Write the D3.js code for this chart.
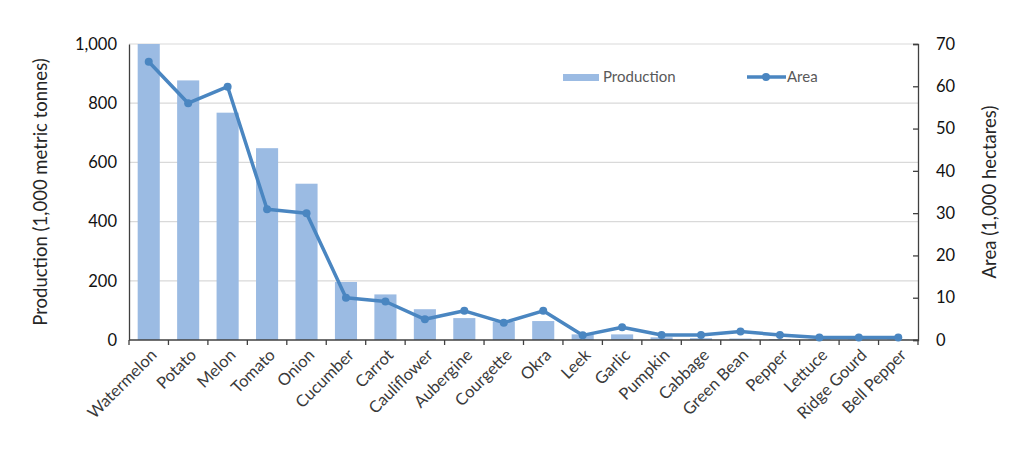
<!DOCTYPE html>
<html>
<head>
<meta charset="utf-8">
<script src="https://cdn.jsdelivr.net/npm/d3@7"></script>
<style>
  body { margin: 0; background: #fff; }
  svg { font-family: Lato, "Open Sans", sans-serif; }
</style>
</head>
<body>
<div id="chart"></div>
<script>
// Values
var crops = ['Watermelon', 'Potato', 'Melon', 'Tomato', 'Onion', 'Cucumber', 'Carrot',
  'Cauliflower', 'Aubergine', 'Courgette', 'Okra', 'Leek', 'Garlic', 'Pumpkin', 'Cabbage',
  'Green Bean', 'Pepper', 'Lettuce', 'Ridge Gourd', 'Bell Pepper'];
var production = [1000, 877, 768, 648, 528, 196, 154, 104, 74, 62, 64, 19, 19, 9, 6, 5, 3, 2, 1.5, 1.5];
var area = [65.8, 56, 59.9, 30.9, 30, 10, 9.1, 4.9, 6.9, 4.1, 6.9, 1.1, 3, 1.2, 1.2, 2, 1.2, 0.6, 0.6, 0.6];
var prodTicks = [0, 200, 400, 600, 800, 1000];
var areaTicks = [0, 10, 20, 30, 40, 50, 60, 70];

var width = 1024, height = 450;
var margin = { top: 44, right: 106, bottom: 110, left: 129 };
var barColor = '#9bbbe3', lineColor = '#4a86c1';

var svg = d3.select('#chart').append('svg')
  .attr('width', width)
  .attr('height', height);

var x = d3.scaleBand()
  .domain(crops)
  .range([margin.left, width - margin.right])
  .paddingInner(0.44)
  .paddingOuter(0.22);

var yLeft = d3.scaleLinear().domain([0, 1000]).range([height - margin.bottom, margin.top]);
var yRight = d3.scaleLinear().domain([0, 70]).range([height - margin.bottom, margin.top]);

// gridlines
svg.append('g')
  .selectAll('line')
  .data(prodTicks.filter(d => d > 0))
  .enter().append('line')
  .attr('x1', margin.left)
  .attr('x2', width - margin.right)
  .attr('y1', d => yLeft(d))
  .attr('y2', d => yLeft(d))
  .attr('stroke', '#d9d9d9')
  .attr('stroke-width', 1.2);

// bars
svg.append('g')
  .selectAll('rect')
  .data(crops)
  .enter().append('rect')
  .attr('x', d => x(d))
  .attr('width', x.bandwidth())
  .attr('y', (d, i) => yLeft(production[i]))
  .attr('height', (d, i) => yLeft(0) - yLeft(production[i]))
  .attr('fill', barColor);

// x axis, ticks at band edges
var step = x.step();
var edges = d3.range(crops.length + 1).map(i => margin.left + i * step);
var xAxis = svg.append('g');
xAxis.append('line')
  .attr('x1', margin.left).attr('x2', width - margin.right)
  .attr('y1', yLeft(0)).attr('y2', yLeft(0))
  .attr('stroke', '#404040').attr('stroke-width', 1.3);
xAxis.selectAll('.tk')
  .data(edges)
  .enter().append('line')
  .attr('x1', d => d).attr('x2', d => d)
  .attr('y1', yLeft(0)).attr('y2', yLeft(0) + 5)
  .attr('stroke', '#404040').attr('stroke-width', 1.3);
xAxis.selectAll('text')
  .data(crops)
  .enter().append('text')
  .attr('transform', d => `translate(${x(d) + x.bandwidth() / 2 + 5}, ${yLeft(0) + 12}) rotate(-45)`)
  .attr('text-anchor', 'end')
  .attr('dy', '0.35em')
  .style('font-size', '16.5px')
  .attr('fill', '#3a3a3a')
  .text(d => d);

// left axis
var leftAxis = svg.append('g')
  .attr('transform', `translate(${margin.left},0)`)
  .call(d3.axisLeft(yLeft).tickValues(prodTicks).tickSize(0).tickPadding(12).tickFormat(d3.format(',')));
leftAxis.select('.domain').attr('stroke', '#404040').attr('stroke-width', 1.3);
leftAxis.selectAll('text').style('font-size', '16.5px').attr('fill', '#111').style('font-family', 'Lato, sans-serif');

// right axis
var rightAxis = svg.append('g')
  .attr('transform', `translate(${width - margin.right},0)`)
  .call(d3.axisRight(yRight).tickValues(areaTicks).tickSize(-5).tickPadding(18));
rightAxis.select('.domain').attr('stroke', '#404040').attr('stroke-width', 1.3);
rightAxis.selectAll('line').attr('stroke', '#404040').attr('stroke-width', 1.3);
rightAxis.selectAll('text').style('font-size', '16.5px').attr('fill', '#111').style('font-family', 'Lato, sans-serif');

// area line
var line = d3.line()
  .x((d, i) => x(crops[i]) + x.bandwidth() / 2)
  .y(d => yRight(d));
svg.append('path')
  .datum(area)
  .attr('d', line)
  .attr('fill', 'none')
  .attr('stroke', lineColor)
  .attr('stroke-width', 3.5)
  .attr('stroke-linejoin', 'round');
svg.append('g')
  .selectAll('circle')
  .data(area)
  .enter().append('circle')
  .attr('cx', (d, i) => x(crops[i]) + x.bandwidth() / 2)
  .attr('cy', d => yRight(d))
  .attr('r', 4)
  .attr('fill', lineColor);

// axis titles
svg.append('text')
  .attr('transform', `translate(47, ${(margin.top + height - margin.bottom) / 2}) rotate(-90)`)
  .attr('text-anchor', 'middle')
  .style('font-size', '18.5px')
  .attr('fill', '#262626')
  .text('Production (1,000 metric tonnes)');
svg.append('text')
  .attr('transform', `translate(996, ${(margin.top + height - margin.bottom) / 2}) rotate(-90)`)
  .attr('text-anchor', 'middle')
  .style('font-size', '18.5px')
  .attr('fill', '#262626')
  .text('Area (1,000 hectares)');

// legend
var legend = svg.append('g');
legend.append('rect')
  .attr('x', 563).attr('y', 74).attr('width', 36).attr('height', 7)
  .attr('fill', barColor);
legend.append('text')
  .attr('x', 603).attr('y', 77).attr('dy', '0.35em')
  .style('font-size', '15px').attr('fill', '#595959')
  .text('Production');
legend.append('line')
  .attr('x1', 747).attr('x2', 786).attr('y1', 77).attr('y2', 77)
  .attr('stroke', lineColor).attr('stroke-width', 3.5);
legend.append('circle')
  .attr('cx', 766).attr('cy', 77).attr('r', 4).attr('fill', lineColor);
legend.append('text')
  .attr('x', 787).attr('y', 77).attr('dy', '0.35em')
  .style('font-size', '15px').attr('fill', '#595959')
  .text('Area');
</script>
</body>
</html>
